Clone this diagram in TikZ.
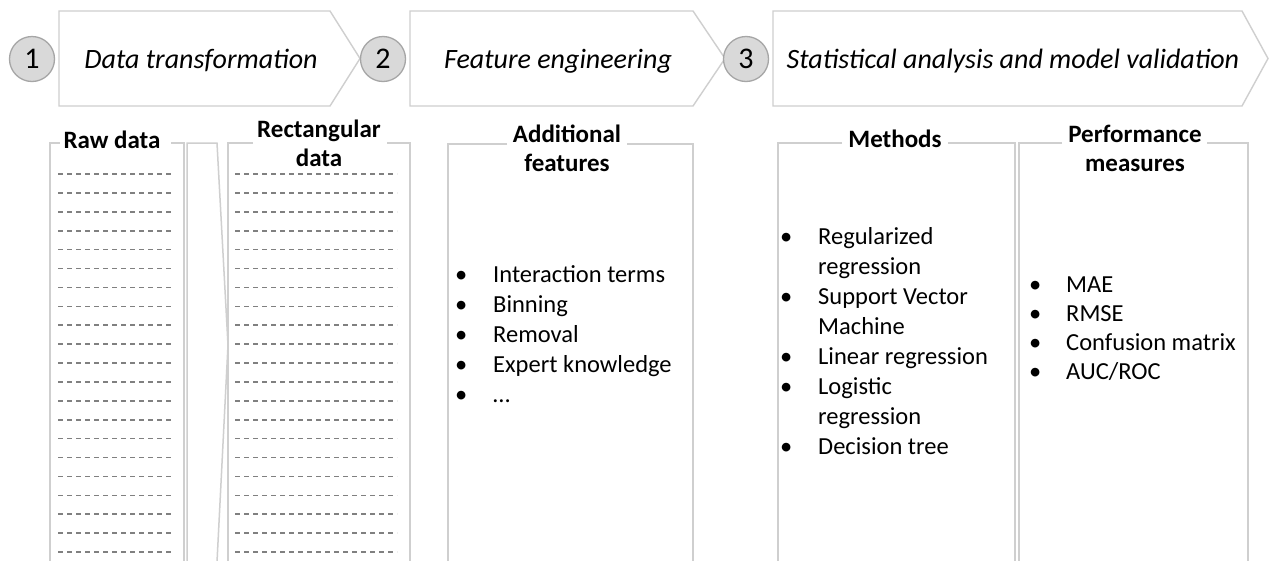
\documentclass[tikz,border=0pt]{standalone}
\usepackage{fontspec}
\setmainfont{Carlito}
\definecolor{linegray}{HTML}{CFCFCF}
\definecolor{circgray}{HTML}{A6A6A6}
\definecolor{circfill}{HTML}{D9D9D9}
\definecolor{dashgray}{HTML}{808080}
\begin{document}
\begin{tikzpicture}[x=1pt,y=-1pt,
  chev/.style={draw=linegray, line width=1.4pt, fill=white, line join=miter},
  num/.style={circle, draw=circgray, fill=circfill, line width=1.3pt, minimum size=45pt, inner sep=0pt, font=\fontsize{30}{34}\selectfont},
  phase/.style={anchor=base, inner sep=0pt, font=\fontsize{28}{32}\selectfont\itshape},
  boxline/.style={draw=linegray, line width=1.5pt},
  ttl/.style={anchor=base, inner sep=0pt, font=\fontsize{25}{29}\selectfont\bfseries},
  lst/.style={anchor=base west, inner sep=0pt},
  dsh/.style={draw=dashgray, line width=1.6pt, dash pattern=on 5pt off 4pt}
]
\useasboundingbox (0,0) rectangle (1269,560);
\fill[white] (0,0) rectangle (1269,560);

% chevrons
\draw[chev] (59,11) -- (330,11) -- (360,58.5) -- (330,106) -- (59,106) -- cycle;
\draw[chev] (410,11) -- (693,11) -- (725,58.5) -- (693,106) -- (410,106) -- cycle;
\draw[chev] (773,11) -- (1242,11) -- (1268,58.5) -- (1242,106) -- (773,106) -- cycle;

\node[num] (n1) at (32,59) {1};
\node[num] (n2) at (383,59) {2};
\node[num] (n3) at (746,59) {3};

\node[phase] (p1) at (201,68) {Data transformation};
\node[phase] (p2) at (558,68) {Feature engineering};
\node[phase] (p3) at (1013,68) {Statistical analysis and model validation};

% boxes
\draw[boxline] (60,143) -- (50,143) -- (50,562);
\draw[boxline] (171,143) -- (184,143) -- (184,562);
\draw[boxline] (187,562) -- (187,143) -- (217,143) -- (228,345) -- (217,562);
\draw[boxline] (253,143) -- (228,143) -- (228,562);
\draw[boxline] (387,143) -- (410,143) -- (410,562);
\draw[boxline] (507,144) -- (448,144) -- (448,562);
\draw[boxline] (627,144) -- (693,144) -- (693,562);
\draw[boxline] (842,143) -- (778,143) -- (778,562);
\draw[boxline] (948,143) -- (1015,143) -- (1015,562);
\draw[boxline] (1062,143) -- (1019,143) -- (1019,562);
\draw[boxline] (1207,143) -- (1248,143) -- (1248,562);

% titles
\node[ttl] (traw) at (112,148) {Raw data};
\node[ttl] (trect) at (319,137) {\begin{tabular}[t]{@{}c@{}}Rectangular\\data\end{tabular}};
\node[ttl] (tfeat) at (567,142) {\begin{tabular}[t]{@{}c@{}}Additional\\features\end{tabular}};
\node[ttl] (tmeth) at (895,147) {Methods};
\node[ttl] (tperf) at (1135,142) {\begin{tabular}[t]{@{}c@{}}Performance\\measures\end{tabular}};

% dashed rows
\foreach \i in {0,...,20} {
  \draw[dsh] (58,174+\i*18.9) -- (173,174+\i*18.9);
  \draw[dsh] (235,174+\i*18.9) -- (397,174+\i*18.9);
}

% lists
\node[lst] (lfeat) at (455,282) {\fontsize{24.5}{30}\selectfont
  \begin{tabular}[t]{@{}p{38pt}@{}l@{}}
  • & Interaction terms\\
  • & Binning\\
  • & Removal\\
  • & Expert knowledge\\
  • & …
  \end{tabular}};
\node[lst] (lmeth) at (780,244) {\fontsize{24.5}{30}\selectfont
  \begin{tabular}[t]{@{}p{38pt}@{}l@{}}
  • & Regularized\\
    & regression\\
  • & Support Vector\\
    & Machine\\
  • & Linear regression\\
  • & Logistic\\
    & regression\\
  • & Decision tree
  \end{tabular}};
\node[lst] (lperf) at (1029,292) {\fontsize{24.5}{29}\selectfont
  \begin{tabular}[t]{@{}p{37pt}@{}l@{}}
  • & MAE\\
  • & RMSE\\
  • & Confusion matrix\\
  • & AUC/ROC
  \end{tabular}};
\end{tikzpicture}
\end{document}
